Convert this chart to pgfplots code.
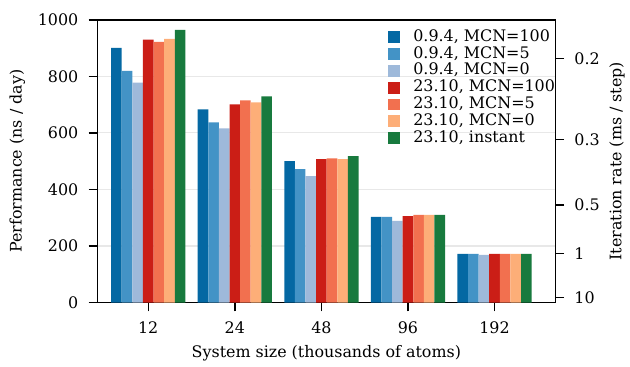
\documentclass[border=0pt]{standalone}
\usepackage{fontspec}
\setmainfont{DejaVu Serif}
\usepackage{pgfplots}
\pgfplotsset{compat=1.18}
\definecolor{cA}{RGB}{4,104,163}
\definecolor{cB}{RGB}{67,147,198}
\definecolor{cC}{RGB}{158,185,218}
\definecolor{cD}{RGB}{203,30,22}
\definecolor{cE}{RGB}{242,112,79}
\definecolor{cF}{RGB}{253,174,120}
\definecolor{cG}{RGB}{24,122,62}
\pgfplotsset{
  base/.style={
    scale only axis, width=331.2pt, height=204.5pt,
    xmin=-0.586, xmax=4.701, ymin=0, ymax=1000,
    tick align=outside, major tick length=6.5pt,
    /pgf/number format/assume math mode=true,
    /pgf/number format/1000 sep={},
    every tick/.style={black, line width=1pt},
    axis line style={line width=1pt},
  }
}
\begin{document}
\fontsize{11.5}{13.8}\selectfont
\begin{tikzpicture}[font=\fontsize{11.5}{13.8}\selectfont]
\begin{axis}[base, name=ax,
  ybar=0pt, bar width=0.1225,
  every axis plot/.append style={draw=none,
    legend image code/.code={\fill[##1] (0pt,-4.3pt) rectangle (8.6pt,4.3pt); \path (17.4pt,0pt);}},
  xtick={0,1,2,3,4}, xticklabels={12,24,48,96,192},
  xtick pos=bottom, ytick pos=left,
  ytick={0,200,400,600,800,1000},
  xticklabel style={yshift=-3.4pt},
  yticklabel style={xshift=-3.4pt},
  ymajorgrids, major grid style={black!9, line width=0.8pt},
  xlabel={System size (thousands of atoms)},
  ylabel={Performance (ns / day)},
  every axis x label/.style={at={(axis description cs:0.5,-0.18)},anchor=center},
  every axis y label/.style={at={(axis description cs:-0.175,0.5)},rotate=90,anchor=center},
  legend style={draw=none, fill=none, inner sep=0pt,
    at={(axis description cs:1,1)}, anchor=north east, xshift=1pt, yshift=-6.1pt,
    nodes={inner xsep=1pt, inner ysep=0.6pt, text height=8.5pt, text depth=2.5pt, anchor=west},
    row sep=0pt},
  legend cell align=left,
]
\addplot[fill=cA] coordinates {(0,901) (1,683) (2,500) (3,303) (4,172)};
\addplot[fill=cB] coordinates {(0,820) (1,637) (2,472) (3,303) (4,172)};
\addplot[fill=cC] coordinates {(0,778) (1,616) (2,447) (3,289) (4,169)};
\addplot[fill=cD] coordinates {(0,930) (1,701) (2,507) (3,306) (4,172)};
\addplot[fill=cE] coordinates {(0,922) (1,715) (2,510) (3,310) (4,172)};
\addplot[fill=cF] coordinates {(0,933) (1,708) (2,507) (3,310) (4,172)};
\addplot[fill=cG] coordinates {(0,965) (1,729) (2,518) (3,310) (4,172)};
\legend{{0.9.4, MCN=100},{0.9.4, MCN=5},{0.9.4, MCN=0},{23.10, MCN=100},{23.10, MCN=5},{23.10, MCN=0},{23.10, instant}}
\end{axis}
\begin{axis}[base,
  hide x axis,
  axis y line*=right,
  ytick={864,576,345.6,172.8,17.28},
  yticklabels={0.2,0.3,0.5,1,10},
  yticklabel style={xshift=3.4pt},
  ylabel={Iteration rate (ms / step)},
  every axis y label/.style={at={(axis description cs:1.135,0.5)},rotate=90,anchor=center},
]
\addplot[draw=none] coordinates {(0,0)};
\end{axis}
\useasboundingbox ([xshift=-70.56pt,yshift=-41.76pt]ax.south west) rectangle ([xshift=51.84pt,yshift=14.4pt]ax.north east);
\end{tikzpicture}
\end{document}
